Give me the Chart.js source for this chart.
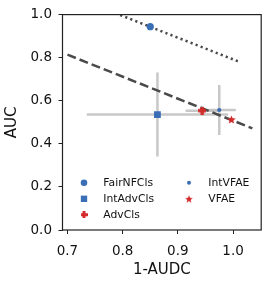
<!DOCTYPE html>
<html>
<head>
<meta charset="utf-8">
<script src="https://cdn.jsdelivr.net/npm/chart.js@4"></script>
<style>
  body { margin: 0; background: #fff; }
  canvas { display: block; }
</style>
</head>
<body>
<canvas id="chart" width="266" height="283"></canvas>
<script>
// method results (x = 1-AUDC, y = AUC)
var methods = ['FairNFCls', 'IntAdvCls', 'AdvCls', 'IntVFAE', 'VFAE'];
var xVals = [0.850, 0.863, 0.944, 0.975, 0.997];
var yVals = [0.944, 0.536, 0.554, 0.557, 0.513];
var xErr = [0, 0.128, 0.030, 0.030, 0];
var yErr = [0, 0.195, 0.023, 0.116, 0];

// trend lines
var dottedX = [0.750, 1.012];
var dottedY = [1.044, 0.780];
var dashedX = [0.700, 1.035];
var dashedY = [0.814, 0.472];

var xTicks = [0.7, 0.8, 0.9, 1.0];
var yTicks = [0.0, 0.2, 0.4, 0.6, 0.8, 1.0];

var BLUE = '#3a6fb5';
var RED = '#d32a2a';
var FONT = 'DejaVu Sans';

function markerCanvas(size, color, draw) {
  var c = document.createElement('canvas');
  c.width = size;
  c.height = size;
  var g = c.getContext('2d');
  g.fillStyle = color;
  draw(g, size);
  return c;
}
function plusMarker(size, color) {
  return markerCanvas(size, color, function(g, s) {
    var w = s * 0.42, o = (s - w) / 2;
    g.fillRect(o, 0, w, s);
    g.fillRect(0, o, s, w);
  });
}
function starMarker(size, color) {
  return markerCanvas(size, color, function(g, s) {
    var cx = s / 2, cy = s / 2 + 0.4, R = s / 2, r = R * 0.45;
    g.beginPath();
    for (var i = 0; i < 10; i++) {
      var rad = i % 2 === 0 ? R : r;
      var ang = -Math.PI / 2 + i * Math.PI / 5;
      var px = cx + rad * Math.cos(ang), py = cy + rad * Math.sin(ang);
      if (i === 0) g.moveTo(px, py); else g.lineTo(px, py);
    }
    g.closePath();
    g.fill();
  });
}

var styles = [
  { pointStyle: 'circle', radius: 3.6, color: BLUE, legend: { pointStyle: 'circle', radius: 3.3 } },
  { pointStyle: 'rect', radius: 4.8, color: BLUE, legend: { pointStyle: 'rect', radius: 4.5 } },
  { pointStyle: plusMarker(8, RED), radius: 4, color: RED, legend: { pointStyle: plusMarker(7, RED), radius: 3.5 } },
  { pointStyle: 'circle', radius: 2.1, color: BLUE, legend: { pointStyle: 'circle', radius: 2 } },
  { pointStyle: starMarker(9, RED), radius: 4.5, color: RED, legend: { pointStyle: starMarker(8, RED), radius: 4 } }
];

var datasets = [];

// points
methods.forEach(function(m, i) {
  datasets.push({
    label: m,
    data: [{ x: xVals[i], y: yVals[i] }],
    showLine: false,
    pointStyle: styles[i].pointStyle,
    pointRadius: styles[i].radius,
    backgroundColor: styles[i].color,
    borderColor: styles[i].color,
    borderWidth: 0,
    order: 1
  });
});

// trend lines
datasets.push({
  label: 'dotted',
  data: dottedX.map(function(x, i) { return { x: x, y: dottedY[i] }; }),
  showLine: true,
  pointRadius: 0,
  borderColor: '#4a4a4a',
  borderWidth: 2.5,
  borderDash: [2.2, 3.2],
  order: 2
});
datasets.push({
  label: 'dashed',
  data: dashedX.map(function(x, i) { return { x: x, y: dashedY[i] }; }),
  showLine: true,
  pointRadius: 0,
  borderColor: '#4a4a4a',
  borderWidth: 2.5,
  borderDash: [9, 4],
  order: 2
});

// error bars
methods.forEach(function(m, i) {
  if (xErr[i] > 0) {
    datasets.push({
      label: m + ' xerr',
      data: [{ x: xVals[i] - xErr[i], y: yVals[i] }, { x: xVals[i] + xErr[i], y: yVals[i] }],
      showLine: true, pointRadius: 0,
      borderColor: 'rgba(190,190,190,0.85)', borderWidth: 2.5, order: 3
    });
  }
  if (yErr[i] > 0) {
    datasets.push({
      label: m + ' yerr',
      data: [{ x: xVals[i], y: yVals[i] - yErr[i] }, { x: xVals[i], y: yVals[i] + yErr[i] }],
      showLine: true, pointRadius: 0,
      borderColor: 'rgba(190,190,190,0.85)', borderWidth: 2.5, order: 3
    });
  }
});

var boxAndLegend = {
  id: 'boxAndLegend',
  afterDraw: function(chart) {
    var ctx = chart.ctx, a = chart.chartArea;
    ctx.save();
    ctx.strokeStyle = '#222';
    ctx.lineWidth = 1.2;
    ctx.strokeRect(a.left, a.top, a.right - a.left, a.bottom - a.top);

    ctx.font = '10.8px "' + FONT + '"';
    ctx.textBaseline = 'middle';
    var cols = [[0, 1, 2], [3, 4]];
    var colX = [a.left + 21.5, a.left + 126.5];
    var rowY = [a.bottom - 47.3, a.bottom - 31.2, a.bottom - 15.3];
    cols.forEach(function(col, c) {
      col.forEach(function(idx, r) {
        var st = styles[idx].legend;
        ctx.fillStyle = styles[idx].color;
        Chart.helpers.drawPoint(ctx, {
          pointStyle: st.pointStyle, radius: st.radius, rotation: 0, borderWidth: 0
        }, colX[c], rowY[r]);
        ctx.fillStyle = '#111';
        ctx.fillText(methods[idx], colX[c] + 19.3, rowY[r] + 0.5);
      });
    });
    ctx.restore();
  }
};

function setTicks(values) {
  return function(scale) {
    scale.ticks = values.map(function(v) { return { value: v }; });
  };
}

var options = {
  type: 'scatter',
  data: { datasets: datasets },
  options: {
    responsive: false,
    devicePixelRatio: 1,
    animation: false,
    layout: { padding: { top: 11, right: 4, left: 0, bottom: 0 } },
    plugins: {
      legend: { display: false },
      tooltip: { enabled: false }
    },
    scales: {
      x: {
        type: 'linear',
        min: 0.691,
        max: 1.051,
        afterBuildTicks: setTicks(xTicks),
        afterFit: function(s) { s.height = 53; },
        grid: { drawOnChartArea: false, drawTicks: true, tickLength: 4, tickColor: '#222' },
        border: { display: false },
        ticks: {
          color: '#111',
          padding: 9,
          maxRotation: 0,
          font: { family: FONT, size: 13.5 },
          callback: function(v) { return v.toFixed(1); }
        },
        title: {
          display: true,
          text: '1-AUDC',
          color: '#111',
          padding: { top: 0, bottom: 4 },
          font: { family: FONT, size: 15 }
        }
      },
      y: {
        type: 'linear',
        min: 0,
        max: 1,
        afterBuildTicks: setTicks(yTicks),
        afterFit: function(s) { s.width = 62.5; },
        grid: { drawOnChartArea: false, drawTicks: true, tickLength: 4, tickColor: '#222' },
        border: { display: false },
        ticks: {
          color: '#111',
          padding: 6.5,
          font: { family: FONT, size: 13.5 },
          callback: function(v) { return v.toFixed(1); }
        },
        title: {
          display: true,
          text: 'AUC',
          color: '#111',
          padding: { top: 3, bottom: 2 },
          font: { family: FONT, size: 15 }
        }
      }
    }
  },
  plugins: [boxAndLegend]
};

var chart = new Chart(document.getElementById('chart'), options);
</script>
</body>
</html>
